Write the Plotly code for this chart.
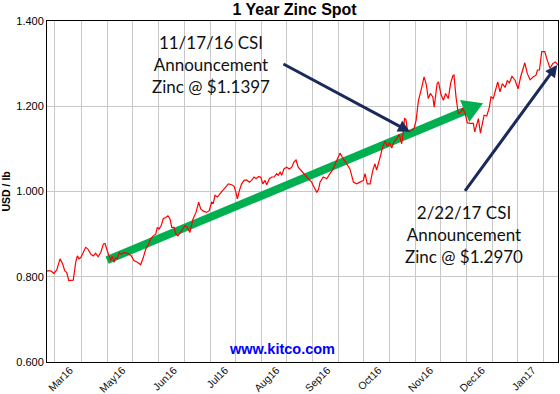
import math
import plotly.graph_objects as go

# ---- data (trading-day index, USD/lb) ----
day = [0.0, 1.8, 3.4, 4.8, 6.4, 7.7, 8.7, 9.7, 10.7, 11.9, 12.9, 14.1, 14.9, 15.7, 16.6, 17.8,
       19.0, 20.1, 21.5, 22.7, 23.9, 25.1, 26.4, 27.7, 28.5, 29.6, 30.5, 31.3, 32.1, 32.9, 33.7,
       34.5, 35.5, 36.5, 37.8, 39.1, 40.3, 41.4, 42.7, 44.4, 46.0, 47.3, 48.5, 49.6, 50.9, 52.2,
       53.4, 54.2, 55.0, 56.1, 57.1, 58.3, 59.4, 60.4, 61.3, 62.4, 63.4, 64.3, 65.3, 66.7, 67.8,
       68.9, 70.2, 71.6, 73.2, 74.5, 75.5, 76.8, 78.4, 79.7, 80.9, 81.7, 82.5, 83.7, 85.0, 86.3,
       87.6, 89.1, 90.7, 91.9, 92.8, 93.5, 94.5, 95.6, 96.8, 98.1, 99.4, 100.5, 101.7, 102.7,
       103.8, 105.0, 106.0, 107.1, 107.9, 109.2, 110.4, 111.5, 112.8, 113.6, 114.5, 115.3, 116.4,
       117.7, 119.0, 120.2, 121.3, 122.3, 123.4, 124.6, 125.9, 127.6, 128.7, 130.0, 131.2, 132.5,
       133.4, 134.1, 135.7, 137.4, 139.0, 140.6, 142.3, 143.9, 145.5, 147.2, 148.8, 150.5, 152.1,
       153.7, 155.4, 156.2, 157.3, 158.7, 160.0, 161.1, 161.9, 163.6, 164.9, 166.0, 167.2, 168.1,
       169.3, 170.4, 171.8, 173.0, 174.2, 175.0, 175.6, 176.3, 177.0, 178.0, 179.1, 180.3, 181.3,
       182.4, 184.1, 185.2, 186.3, 187.3, 188.3, 189.5, 190.2, 191.6, 192.3, 193.5, 194.7, 195.8,
       197.1, 198.3, 199.3, 199.9, 200.9, 202.0, 203.1, 204.2, 205.3, 206.5, 208.1, 209.4, 210.1,
       211.1, 211.9, 212.9, 213.9, 214.7, 216.0, 217.3, 218.1, 219.2, 220.1, 221.4, 222.5, 223.7,
       225.0, 226.1, 227.1, 228.4, 229.9, 231.4, 232.6, 233.7, 234.7, 235.9, 237.3, 238.9, 240.2,
       240.9, 241.9, 243.0, 244.5, 245.6, 247.1, 248.4, 249.7, 251.0]
price = [0.814, 0.814, 0.808, 0.816, 0.842, 0.830, 0.814, 0.810, 0.791, 0.791, 0.792, 0.834, 0.849,
         0.842, 0.845, 0.857, 0.869, 0.865, 0.853, 0.849, 0.855, 0.847, 0.857, 0.877, 0.878, 0.861,
         0.849, 0.838, 0.849, 0.834, 0.845, 0.842, 0.857, 0.853, 0.857, 0.855, 0.853, 0.849, 0.838,
         0.834, 0.828, 0.845, 0.865, 0.873, 0.889, 0.896, 0.900, 0.916, 0.912, 0.920, 0.936, 0.939,
         0.943, 0.936, 0.916, 0.916, 0.900, 0.896, 0.904, 0.912, 0.920, 0.916, 0.904, 0.934, 0.951,
         0.975, 0.959, 0.954, 0.951, 0.955, 0.975, 0.973, 0.991, 0.987, 0.995, 1.002, 1.010, 1.018,
         1.016, 1.012, 0.998, 0.983, 1.002, 1.018, 1.026, 1.027, 1.022, 1.026, 1.034, 1.030, 1.035,
         1.034, 1.018, 1.026, 1.016, 1.030, 1.034, 1.034, 1.042, 1.038, 1.045, 1.038, 1.053, 1.057,
         1.053, 1.057, 1.069, 1.074, 1.057, 1.051, 1.045, 1.034, 1.028, 1.022, 1.010, 0.998, 1.005,
         1.022, 1.034, 1.030, 1.042, 1.053, 1.073, 1.090, 1.077, 1.065, 1.053, 1.022, 1.018, 1.022,
         1.026, 1.042, 1.018, 1.018, 1.049, 1.065, 1.050, 1.080, 1.105, 1.118, 1.106, 1.115, 1.102,
         1.116, 1.124, 1.134, 1.112, 1.140, 1.171, 1.169, 1.145, 1.140, 1.144, 1.148, 1.167, 1.212,
         1.245, 1.269, 1.251, 1.218, 1.230, 1.222, 1.198, 1.253, 1.257, 1.228, 1.214, 1.230, 1.218,
         1.255, 1.271, 1.273, 1.222, 1.183, 1.185, 1.195, 1.184, 1.161, 1.160, 1.160, 1.140, 1.155,
         1.171, 1.137, 1.160, 1.179, 1.177, 1.198, 1.222, 1.218, 1.234, 1.257, 1.234, 1.253, 1.244,
         1.260, 1.255, 1.270, 1.261, 1.241, 1.268, 1.287, 1.302, 1.277, 1.262, 1.269, 1.273, 1.285,
         1.285, 1.328, 1.328, 1.310, 1.289, 1.300, 1.304, 1.297]

grid_days = [3.9, 17.0, 29.6, 42.1, 54.9, 67.4, 80.1, 92.7, 105.3, 117.4, 130.3, 143.1, 155.4,
             168.1, 180.8, 193.4, 206.2, 218.7, 231.2, 243.8]
label_days = [11.3, 37.0, 62.3, 87.5, 112.7, 137.7, 162.8, 188.2, 213.6, 238.6]
month_labels = ["Mar16", "May16", "Jun16", "Jul16", "Aug16", "Sep16", "Oct16", "Nov16", "Dec16", "Jan17"]
y_ticks = [0.6, 0.8, 1.0, 1.2, 1.4]

# trend arrow (tail / tip) and announcement points
trend_tail = (29.5, 0.839)
trend_tip = (214.2, 1.207)
csi1_tail, csi1_tip = (115.4, 1.301), (178.3, 1.140)
csi2_tail, csi2_tip = (204.8, 0.998), (250.6, 1.297)

X0, X1, Y0, Y1 = 0, 251, 0.6, 1.4
L, R, T, B = 47, 2, 21, 32
W, H = 560, 394
sx = (W - L - R) / (X1 - X0)
sy = (H - T - B) / (Y1 - Y0)

fig = go.Figure()
fig.add_trace(go.Scatter(x=day, y=price, mode="lines",
                         line=dict(color="#ff0000", width=1.2), hoverinfo="skip",
                         showlegend=False))

# green trend arrow drawn between grid and data
dxp = (trend_tip[0] - trend_tail[0]) * sx
dyp = (trend_tip[1] - trend_tail[1]) * sy
ln = math.hypot(dxp, dyp)
ux, uy = dxp / ln, dyp / ln
nx, ny = -uy, ux
head_len, head_half = 20, 12
bx = trend_tip[0] - head_len * ux / sx
by = trend_tip[1] - head_len * uy / sy
p1 = (bx + head_half * nx / sx, by + head_half * ny / sy)
p2 = (bx - head_half * nx / sx, by - head_half * ny / sy)
green = "#00b050"
fig.add_shape(type="line", xref="x", yref="y", layer="between",
              x0=trend_tail[0], y0=trend_tail[1], x1=bx + 2 * ux / sx, y1=by + 2 * uy / sy,
              line=dict(color=green, width=8))
fig.add_shape(type="path", xref="x", yref="y", layer="between",
              path=f"M{p1[0]},{p1[1]} L{trend_tip[0]},{trend_tip[1]} L{p2[0]},{p2[1]} Z",
              fillcolor=green, line=dict(color=green, width=0))

navy = "#1b2a5c"
for tail, tip in [(csi1_tail, csi1_tip), (csi2_tail, csi2_tip)]:
    fig.add_annotation(x=tip[0], y=tip[1], ax=tail[0], ay=tail[1], axref="x", ayref="y",
                       xref="x", yref="y", text="", showarrow=True, arrowhead=2,
                       arrowsize=0.8, arrowwidth=3, arrowcolor=navy, standoff=0)

txt_font = dict(family="Lato, Carlito, sans-serif", size=17, color="#111111")
fig.add_annotation(x=80.6, y=1.299, xref="x", yref="y", showarrow=False,
                   text="11/17/16 CSI<br>Announcement<br>Zinc @ $1.1397", font=txt_font)
fig.add_annotation(x=204.8, y=0.899, xref="x", yref="y", showarrow=False,
                   text="2/22/17 CSI<br>Announcement<br>Zinc @ $1.2970", font=txt_font)
fig.add_annotation(x=115.4, y=0.631, xref="x", yref="y", showarrow=False,
                   text="<b>www.kitco.com</b>",
                   font=dict(family="Liberation Sans, Arial", size=14.5, color="#0000ff"))
fig.add_annotation(x=(5 - L) / (W - L - R), y=0.5, xref="paper", yref="paper",
                   xanchor="center", yanchor="middle",
                   showarrow=False, textangle=-90, text="<b>USD / lb</b>",
                   font=dict(family="Liberation Sans, Arial", size=10.5, color="#000000"))

fig.update_layout(
    width=W, height=H, autosize=False,
    margin=dict(l=L, r=R, t=T, b=B, pad=0),
    paper_bgcolor="white", plot_bgcolor="white",
    title=dict(text="<b>1 Year Zinc Spot</b>", x=294.6 / W, xref="container", xanchor="center",
               y=1 - 9.5 / H, yref="container", yanchor="middle",
               font=dict(family="Liberation Sans, Arial", size=16, color="#000000")),
    xaxis=dict(range=[X0, X1], tickmode="array", tickvals=label_days, ticktext=month_labels,
               tickangle=-45, showgrid=False, ticks="", ticklen=0, ticklabelstandoff=-3,
               zeroline=False,
               showline=True, mirror=True, linecolor="#000000", linewidth=1,
               tickfont=dict(family="Liberation Sans, Arial", size=10.5, color="#111111"),
               minor=dict(tickmode="array", tickvals=grid_days, showgrid=True,
                          gridcolor="#c8c8c8", gridwidth=1, ticks=""),
               automargin=False, fixedrange=True),
    yaxis=dict(range=[Y0, Y1], tickmode="array", tickvals=y_ticks, tickformat=".3f",
               showgrid=True, gridcolor="#c8c8c8", gridwidth=1, ticks="", zeroline=False,
               showline=True, mirror=True, linecolor="#000000", linewidth=1,
               tickfont=dict(family="Liberation Sans, Arial", size=11, color="#000000"),
               automargin=False, fixedrange=True),
    showlegend=False,
)

fig.write_html("out.html", config={"displayModeBar": False},
               post_script="document.body.style.margin='0';document.body.style.overflow='hidden';")
